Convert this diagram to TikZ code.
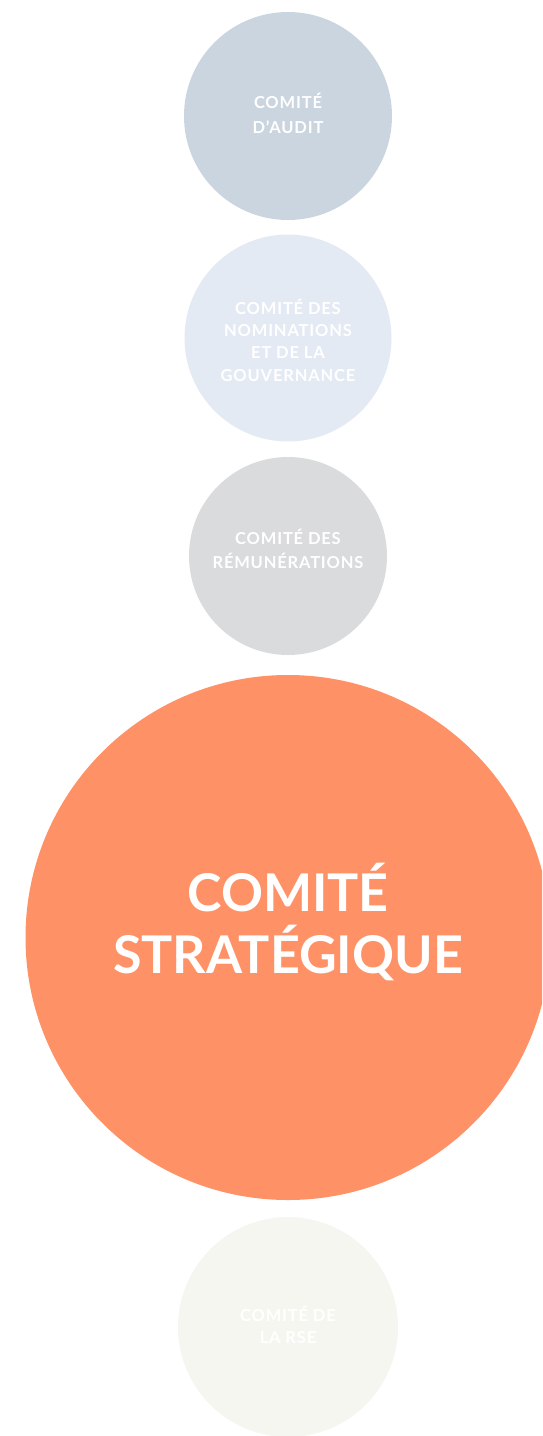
\documentclass[tikz,border=0pt]{standalone}
\usepackage{fontspec}
\setmainfont{Lato}

\definecolor{auditblue}{HTML}{CBD5DF}
\definecolor{nominblue}{HTML}{E4EAF4}
\definecolor{remungrey}{HTML}{DADBDD}
\definecolor{strategieorange}{HTML}{FF9166}
\definecolor{rsewhite}{HTML}{F6F6F1}

\begin{document}
\begin{tikzpicture}[
    x=1pt, y=-1pt,
    bubble/.style={circle, inner sep=0pt, draw=none},
    smalltext/.style={text=white, align=center, inner sep=0pt,
        font=\bfseries\fontsize{16.5}{#1}\selectfont\addfontfeatures{LetterSpace=5}},
    bigtext/.style={text=white, align=center, inner sep=0pt,
        font=\bfseries\fontsize{52}{62}\selectfont}
]

    % Page (pixel grid of the reference)
    \useasboundingbox (0,0) rectangle (542,1436);
    \clip (0,0) rectangle (542,1436);

    % Circles
    \node[bubble, fill=auditblue, minimum size=208pt] (audit) at (288,116) {};
    \node[bubble, fill=nominblue, minimum size=207pt] (nomin) at (288,338) {};
    \node[bubble, fill=remungrey, minimum size=198pt] (remun) at (288,556) {};
    \node[bubble, fill=strategieorange, minimum size=525pt] (strat) at (288,937.5) {};
    \node[bubble, fill=rsewhite, minimum size=220pt] (rse) at (288,1327) {};

    % Labels
    \node[smalltext=25] (audit-txt) at (288,113) {COMITÉ\\D’AUDIT};
    \node[smalltext=22.3] (nomin-txt) at (288,340)
        {COMITÉ DES\\NOMINATIONS\\ET DE LA\\GOUVERNANCE};
    \node[smalltext=24] (remun-txt) at (288,549) {COMITÉ DES\\RÉMUNÉRATIONS};
    \node[bigtext] (strat-txt) at (288,922) {COMITÉ\\STRATÉGIQUE};
    \node[smalltext=22] (rse-txt) at (288,1325) {COMITÉ DE\\LA RSE};

\end{tikzpicture}
\end{document}
